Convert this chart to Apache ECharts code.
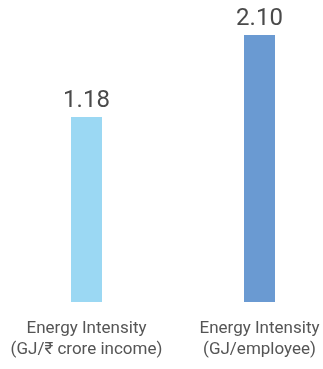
<!DOCTYPE html>
<html>
<head>
<meta charset="utf-8">
<script src="https://cdn.jsdelivr.net/npm/echarts@6/dist/echarts.min.js"></script>
<style>
  html, body { margin: 0; padding: 0; background: #fff; }
  #chart { width: 323px; height: 369px; }
</style>
</head>
<body>
<div id="chart"></div>
<script>
var categories = ['Energy Intensity\n(GJ/₹ crore income)', 'Energy Intensity\n(GJ/employee)']
var incomeValues = [1.18, '-']
var employeeValues = ['-', 2.10]

var chart = echarts.init(document.getElementById('chart'))
var option = {
  animation: false,
  grid: { left: 0, width: 346, top: 35, height: 267, outerBoundsMode: 'none' },
  xAxis: {
    type: 'category',
    data: categories,
    axisLine: { show: false },
    axisTick: { show: false },
    axisLabel: {
      interval: 0,
      margin: 16,
      color: '#555',
      fontFamily: 'Roboto',
      fontSize: 17,
      lineHeight: 21
    }
  },
  // each bar was drawn on its own scale in the source
  yAxis: [
    { type: 'value', min: 0, max: 1.703, show: false },
    { type: 'value', min: 0, max: 2.10, show: false }
  ],
  series: [
    {
      type: 'bar',
      yAxisIndex: 0,
      data: incomeValues,
      barWidth: 31,
      barGap: '-100%',
      itemStyle: { color: '#9bd8f3' },
      label: {
        show: true,
        position: 'top',
        distance: 4,
        formatter: function(p) { return p.value.toFixed(2) },
        color: '#4a4a4a',
        fontFamily: 'Roboto',
        fontSize: 24
      }
    },
    {
      type: 'bar',
      yAxisIndex: 1,
      data: employeeValues,
      barWidth: 31,
      barGap: '-100%',
      itemStyle: { color: '#6a9ad2' },
      label: {
        show: true,
        position: 'top',
        distance: 4,
        formatter: function(p) { return p.value.toFixed(2) },
        color: '#4a4a4a',
        fontFamily: 'Roboto',
        fontSize: 24
      }
    }
  ]
}
chart.setOption(option)
</script>
</body>
</html>
